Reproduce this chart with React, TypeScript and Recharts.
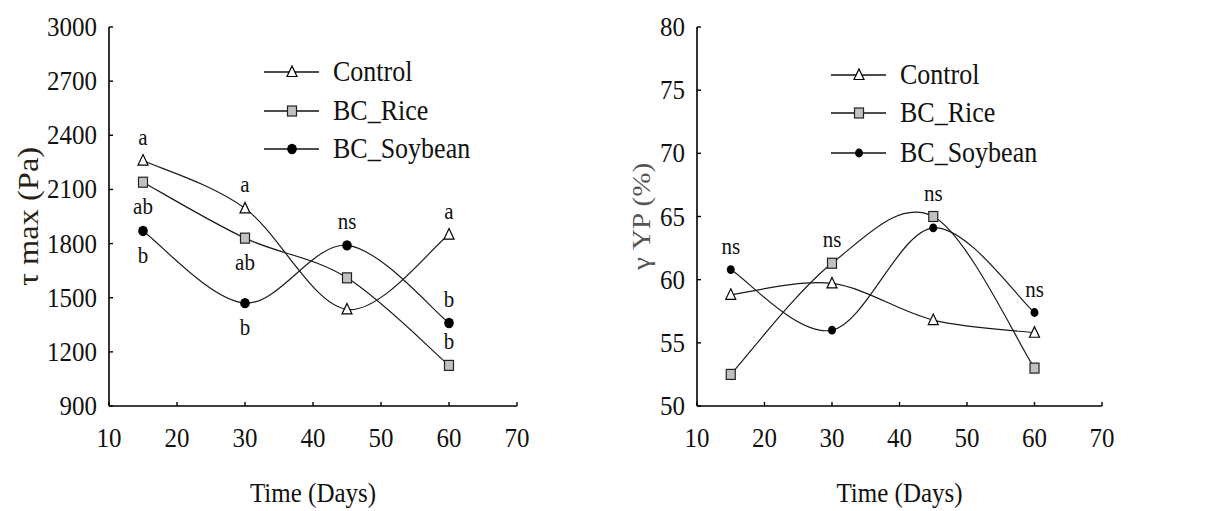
import React from 'react';
import { LineChart, Line, XAxis, YAxis, Legend, LabelList } from 'recharts';

const days = [15, 30, 45, 60];
const dayTicks = [10, 20, 30, 40, 50, 60, 70];

// τ max (Pa)
const tauControl = [2260, 1995, 1435, 1850];
const tauRice = [2140, 1830, 1610, 1125];
const tauSoybean = [1870, 1470, 1790, 1360];
const tauTicks = [900, 1200, 1500, 1800, 2100, 2400, 2700, 3000];
const tauControlSig = ['a', 'a', '', 'a'];
const tauRiceSig = ['ab', 'ab', '', 'b'];
const tauSoybeanSig = ['b', 'b', 'ns', 'b'];

// γ YP (%)
const ypControl = [58.8, 59.7, 56.8, 55.8];
const ypRice = [52.5, 61.3, 65.0, 53.0];
const ypSoybean = [60.8, 56.0, 64.1, 57.4];
const ypTicks = [50, 55, 60, 65, 70, 75, 80];
const ypControlSig = ['', '', '', ''];
const ypRiceSig = ['', 'ns', 'ns', ''];
const ypSoybeanSig = ['ns', '', '', 'ns'];

// which side of the marker each letter sits on
const tauSides = {
  control: ['up', 'up', 'up', 'up'],
  rice: ['down', 'down', 'up', 'up'],
  soybean: ['down', 'down', 'up', 'up'],
};
const ypSides = {
  control: ['up', 'up', 'up', 'up'],
  rice: ['up', 'up', 'up', 'up'],
  soybean: ['up', 'up', 'up', 'up'],
};

const SERIF = "'Liberation Serif', 'Times New Roman', serif";
const STRETCH = 1.12;

const buildRows = (c: number[], r: number[], s: number[], cs: string[], rs: string[], ss: string[]) =>
  days.map((day, i) => ({
    day,
    control: c[i],
    rice: r[i],
    soybean: s[i],
    controlSig: cs[i],
    riceSig: rs[i],
    soybeanSig: ss[i],
  }));

const tauRows = buildRows(tauControl, tauRice, tauSoybean, tauControlSig, tauRiceSig, tauSoybeanSig);
const ypRows = buildRows(ypControl, ypRice, ypSoybean, ypControlSig, ypRiceSig, ypSoybeanSig);

// Excel-like smoothed line: cubic bezier through each point, tangents from neighbours
const smoothCurve = (context: any) => {
  let pts: number[][] = [];
  return {
    areaStart() {},
    areaEnd() {},
    lineStart() {
      pts = [];
    },
    point(x: number, y: number) {
      pts.push([+x, +y]);
    },
    lineEnd() {
      const n = pts.length;
      if (!n) return;
      context.moveTo(pts[0][0], pts[0][1]);
      for (let i = 0; i < n - 1; i++) {
        const p0 = pts[Math.max(i - 1, 0)];
        const p1 = pts[i];
        const p2 = pts[i + 1];
        const p3 = pts[Math.min(i + 2, n - 1)];
        context.bezierCurveTo(
          p1[0] + (p2[0] - p0[0]) / 6,
          p1[1] + (p2[1] - p0[1]) / 6,
          p2[0] - (p3[0] - p1[0]) / 6,
          p2[1] - (p3[1] - p1[1]) / 6,
          p2[0],
          p2[1]
        );
      }
    },
  };
};

const TriangleMark = ({ cx, cy }: { cx: number; cy: number }) => (
  <path
    d={`M${cx},${cy - 6} L${cx + 5},${cy + 4.5} L${cx - 5},${cy + 4.5} Z`}
    fill="#fff"
    stroke="#000"
    strokeWidth={1.2}
  />
);
const SquareMark = ({ cx, cy }: { cx: number; cy: number }) => (
  <rect x={cx - 4.5} y={cy - 5} width={9} height={10} fill="#c0c0c0" stroke="#222" strokeWidth={1.2} />
);
const CircleMark = ({ cx, cy, small }: { cx: number; cy: number; small?: boolean }) => (
  <ellipse cx={cx} cy={cy} rx={small ? 4 : 4.8} ry={small ? 4.4 : 5.2} fill="#000" />
);

const series = [
  { key: 'control', name: 'Control', Mark: TriangleMark },
  { key: 'rice', name: 'BC_Rice', Mark: SquareMark },
  { key: 'soybean', name: 'BC_Soybean', Mark: CircleMark },
];

const XTick = (props: any) => {
  const { x, y, payload } = props;
  return (
    <g transform={`translate(${x},${y + 41}) scale(1,${STRETCH})`}>
      <text textAnchor="middle" fontFamily={SERIF} fontSize={25} fill="#111">
        {payload.value}
      </text>
    </g>
  );
};

const YTick = (props: any) => {
  const { x, y, payload } = props;
  return (
    <g transform={`translate(${x - 12},${y + 9}) scale(1,${STRETCH})`}>
      <text textAnchor="end" fontFamily={SERIF} fontSize={25} fill="#111">
        {payload.value}
      </text>
    </g>
  );
};

const sigLabel = (sides: string[]) => (props: any) => {
  const { value, index } = props;
  if (!value) return null;
  const vb = props.viewBox || {};
  const x = vb.x ?? props.x;
  const y = vb.y ?? props.y;
  const by = sides[index] === 'down' ? y + 32 : y - 16;
  return (
    <g transform={`translate(${x},${by}) scale(1,${STRETCH})`}>
      <text textAnchor="middle" fontFamily={SERIF} fontSize={21} fill="#111">
        {value}
      </text>
    </g>
  );
};

interface PanelProps {
  width: number;
  margin: { top: number; right: number; bottom: number; left: number };
  rows: any[];
  yDomain: [number, number];
  yTicks: number[];
  sides: Record<string, string[]>;
  yTitle: string;
  yTitleColor: string;
  yTitleSize: number;
  yTitleGap: number;
  legendLeft: number;
  legendRows: number[];
  smallDots?: boolean;
}

const Panel: React.FC<PanelProps> = (p) => {
  const renderLegend = () => (
    <svg width={240} height={120} style={{ display: 'block' }}>
      {series.map((s, i) => (
        <g key={s.key}>
          <line x1={9} x2={64} y1={p.legendRows[i]} y2={p.legendRows[i]} stroke="#111" strokeWidth={1.4} />
          <s.Mark cx={37} cy={p.legendRows[i]} small={p.smallDots} />
          <g transform={`translate(78,${p.legendRows[i] + 9}) scale(1,${STRETCH})`}>
            <text fontFamily={SERIF} fontSize={26} fill="#111">
              {s.name}
            </text>
          </g>
        </g>
      ))}
    </svg>
  );

  const xTitle = (props: any) => {
    const vb = props.viewBox;
    return (
      <g transform={`translate(${vb.x + vb.width / 2},${vb.y + 96}) scale(1,${STRETCH})`}>
        <text textAnchor="middle" fontFamily={SERIF} fontSize={25} fill="#111">
          Time (Days)
        </text>
      </g>
    );
  };

  const yTitle = (props: any) => {
    const vb = props.viewBox;
    const cx = vb.x + vb.width - p.yTitleGap;
    const cy = vb.y + vb.height / 2;
    return (
      <g transform={`translate(${cx},${cy}) rotate(-90) scale(${STRETCH},1)`}>
        <text textAnchor="middle" fontFamily={SERIF} fontWeight="normal" fontSize={p.yTitleSize} fill={p.yTitleColor}>
          {p.yTitle}
        </text>
      </g>
    );
  };

  return (
    <LineChart width={p.width} height={511} data={p.rows} margin={p.margin}>
      <XAxis
        dataKey="day"
        type="number"
        domain={[10, 70]}
        ticks={dayTicks}
        interval={0}
        height={30}
        tickSize={-4}
        tickMargin={4}
        tick={XTick}
        axisLine={{ stroke: '#000', strokeWidth: 1.6 }}
        tickLine={{ stroke: '#000', strokeWidth: 1.4 }}
        label={xTitle}
      />
      <YAxis
        type="number"
        domain={p.yDomain}
        ticks={p.yTicks}
        interval={0}
        width={60}
        tickSize={-4}
        tickMargin={4}
        tick={YTick}
        axisLine={{ stroke: '#000', strokeWidth: 1.6 }}
        tickLine={{ stroke: '#000', strokeWidth: 1.4 }}
        label={yTitle}
      />
      <Legend
        layout="vertical"
        align="center"
        verticalAlign="middle"
        content={renderLegend}
        wrapperStyle={{ left: p.legendLeft, top: 50, width: 240, height: 120 }}
      />
      {series.map((s) => (
        <Line
          key={s.key}
          dataKey={s.key}
          name={s.name}
          type={smoothCurve as any}
          stroke="#1a1a1a"
          strokeWidth={1.2}
          isAnimationActive={false}
          activeDot={false}
          dot={(d: any) => (
            <g key={`${s.key}-${d.index}`}>
              <s.Mark cx={d.cx} cy={d.cy} small={p.smallDots} />
            </g>
          )}
        >
          <LabelList dataKey={`${s.key}Sig`} content={sigLabel(p.sides[s.key])} />
        </Line>
      ))}
    </LineChart>
  );
};

export default function App() {
  return (
    <div style={{ position: 'absolute', left: 0, top: 0, width: 1206, height: 511, background: '#fff' }}>
      <div style={{ position: 'absolute', left: 0, top: 0 }}>
        <Panel
          width={600}
          margin={{ top: 27, right: 83, bottom: 75, left: 49 }}
          rows={tauRows}
          yDomain={[900, 3000]}
          yTicks={tauTicks}
          sides={tauSides}
          yTitle="τ max (Pa)"
          yTitleColor="#2a1f14"
          yTitleSize={29}
          yTitleGap={71}
          legendLeft={255}
          legendRows={[22, 61, 99]}
        />
      </div>
      <div style={{ position: 'absolute', left: 600, top: 0 }}>
        <Panel
          width={606}
          margin={{ top: 27, right: 104, bottom: 75, left: 37 }}
          rows={ypRows}
          yDomain={[50, 80]}
          yTicks={ypTicks}
          sides={ypSides}
          yTitle="γ YP (%)"
          yTitleColor="#555"
          yTitleSize={26}
          yTitleGap={47}
          legendLeft={222}
          legendRows={[25, 63, 103]}
          smallDots
        />
      </div>
    </div>
  );
}
